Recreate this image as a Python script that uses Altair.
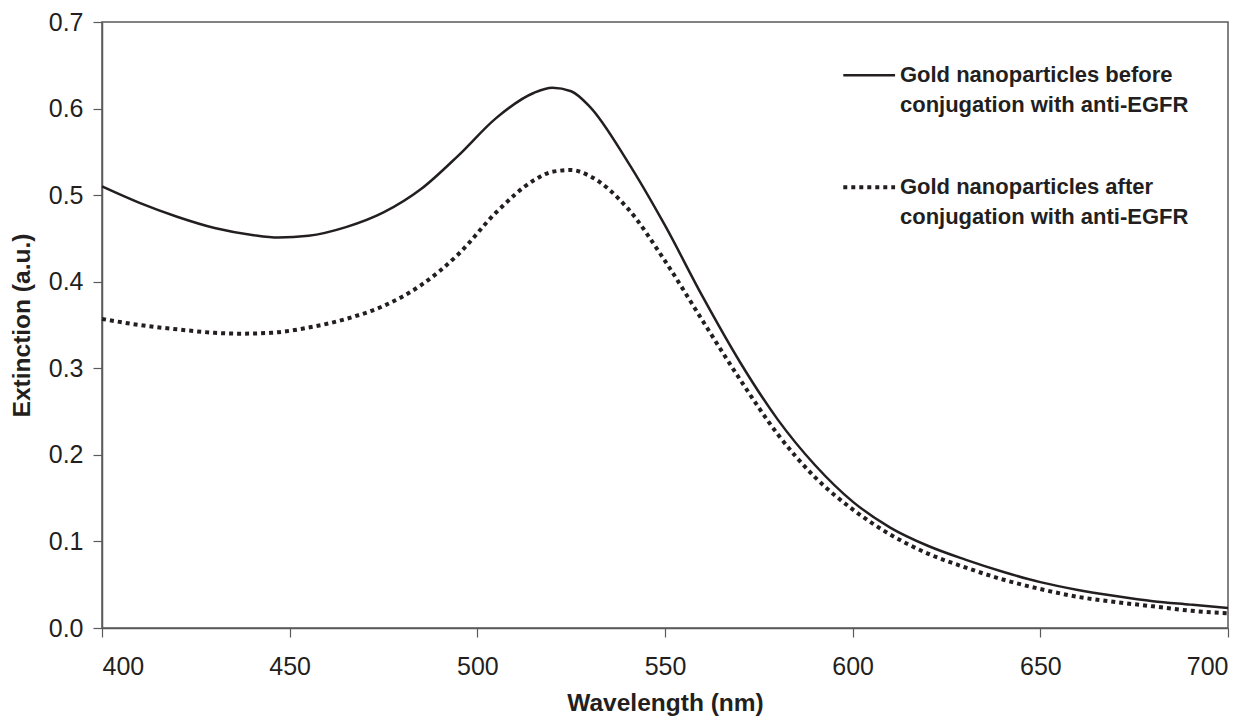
import altair as alt
import pandas as pd

wl_before = [400, 410, 420, 430, 440, 447, 455, 465, 475, 485, 495, 505, 515, 520, 525, 530, 540,
             550, 560, 570, 580, 590, 600, 610, 620, 630, 640, 650, 660, 670, 680, 690, 700]
ext_before = [0.510, 0.491, 0.475, 0.462, 0.454, 0.451, 0.453, 0.463, 0.480, 0.507, 0.546, 0.589,
              0.618, 0.624, 0.620, 0.602, 0.539, 0.465, 0.383, 0.307, 0.241, 0.188, 0.146, 0.116,
              0.095, 0.079, 0.065, 0.053, 0.044, 0.037, 0.031, 0.027, 0.023]

wl_after = [400, 410, 420, 430, 437, 445, 455, 465, 475, 485, 495, 505, 515, 520, 525, 530, 540,
            550, 560, 570, 580, 590, 600, 610, 620, 630, 640, 650, 660, 670, 680, 690, 700]
ext_after = [0.357, 0.350, 0.345, 0.341, 0.340, 0.341, 0.347, 0.357, 0.372, 0.396, 0.432, 0.480,
             0.517, 0.527, 0.529, 0.522, 0.485, 0.424, 0.355, 0.287, 0.224, 0.174, 0.137, 0.108,
             0.086, 0.070, 0.056, 0.045, 0.036, 0.030, 0.025, 0.020, 0.017]

x_ticks = [400, 450, 500, 550, 600, 650, 700]
y_ticks = [0.0, 0.1, 0.2, 0.3, 0.4, 0.5, 0.6, 0.7]

series_names = ["Gold nanoparticles before conjugation with anti-EGFR",
                "Gold nanoparticles after conjugation with anti-EGFR"]
legend_lines = [["Gold nanoparticles before", "conjugation with anti-EGFR"],
                ["Gold nanoparticles after", "conjugation with anti-EGFR"]]

INK = "#231f20"
AX = "#5a5a5a"
FONT = "Liberation Sans"

df_b = pd.DataFrame({"wl": wl_before, "ext": ext_before})
df_a = pd.DataFrame({"wl": wl_after, "ext": ext_after})

xscale = alt.Scale(domain=[400, 700], nice=False, zero=False)
yscale = alt.Scale(domain=[0, 0.7], nice=False)

xaxis = alt.Axis(values=x_ticks, title="Wavelength (nm)", format="d", grid=False,
                 labelFontSize=25, labelFont=FONT, labelColor=INK, labelPadding=17,
                 tickSize=9, tickColor=AX, domainColor=AX, tickWidth=1.2, domainWidth=1.5,
                 titleFont=FONT, titleFontSize=24.5, titleFontWeight="bold", titleColor=INK,
                 titlePadding=12)
yaxis = alt.Axis(values=y_ticks, title="Extinction (a.u.)", format=".1f", grid=False,
                 labelFontSize=25, labelFont=FONT, labelColor=INK, labelPadding=10,
                 tickSize=9, tickColor=AX, domainColor=AX, tickWidth=1.2, domainWidth=1.5,
                 titleFont=FONT, titleFontSize=24.5, titleFontWeight="bold", titleColor=INK,
                 titlePadding=14)

before = alt.Chart(df_b).mark_line(color=INK, strokeWidth=2.5, interpolate="monotone").encode(
    x=alt.X("wl:Q", scale=xscale, axis=xaxis),
    y=alt.Y("ext:Q", scale=yscale, axis=yaxis),
)
after = alt.Chart(df_a).mark_line(color=INK, strokeWidth=4, strokeDash=[4, 4],
                                  interpolate="monotone").encode(
    x=alt.X("wl:Q", scale=xscale),
    y=alt.Y("ext:Q", scale=yscale),
)

# legend (placed in data units, upper right)
leg_seg = pd.DataFrame({
    "x1": [597.5, 597.5], "x2": [611.3, 611.3],
    "y": [0.6385, 0.509], "s": series_names,
})
leg_txt = pd.DataFrame({
    "x": [612.6, 612.6], "y": [0.6385, 0.509],
    "t": legend_lines,
})
seg_solid = alt.Chart(leg_seg.iloc[[0]]).mark_rule(color=INK, strokeWidth=2.5).encode(
    x=alt.X("x1:Q", scale=xscale), x2="x2:Q", y=alt.Y("y:Q", scale=yscale))
seg_dot = alt.Chart(leg_seg.iloc[[1]]).mark_rule(color=INK, strokeWidth=4, strokeDash=[4, 4]).encode(
    x=alt.X("x1:Q", scale=xscale), x2="x2:Q", y=alt.Y("y:Q", scale=yscale))
txt = alt.Chart(leg_txt).mark_text(align="left", baseline="middle", font=FONT, fontSize=22,
                                   fontWeight="bold", color=INK, lineHeight=30).encode(
    x=alt.X("x:Q", scale=xscale), y=alt.Y("y:Q", scale=yscale), text="t")

chart = alt.layer(before, after, seg_solid, seg_dot, txt).properties(
    width=1126, height=606,
    autosize=alt.AutoSizeParams(type="none"),
    padding={"left": 102, "top": 22, "right": 24, "bottom": 89},
    background="white",
).configure_view(stroke=AX, strokeWidth=1.5)

chart.save("out.html", embed_options={"renderer": "svg", "actions": False})
